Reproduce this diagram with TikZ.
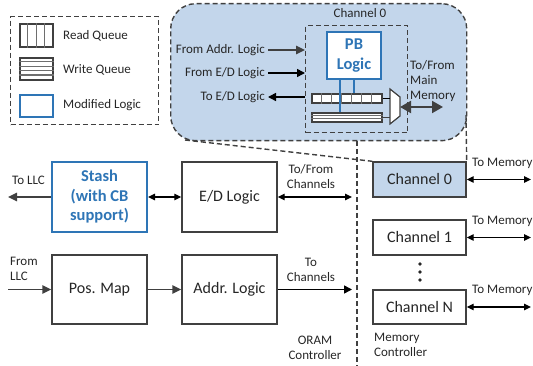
\documentclass[tikz,border=0pt]{standalone}
\usepackage{fontspec}
\setmainfont{Carlito}
\usetikzlibrary{arrows.meta,shapes.geometric,calc}
\definecolor{modblue}{RGB}{46,117,182}
\definecolor{lblue}{RGB}{195,214,235}
\definecolor{boxgray}{RGB}{64,64,64}
\definecolor{txt}{RGB}{38,38,38}
\definecolor{qgray}{RGB}{110,110,110}
\tikzset{
  box/.style={draw=boxgray, line width=1.4pt, fill=white, minimum width=95pt, minimum height=70pt,
    font=\fontsize{16}{18}\selectfont, text=txt, inner sep=0pt},
  chbox/.style={box, minimum width=93pt, minimum height=35pt},
  modbox/.style={draw=modblue, line width=2.2pt, fill=white, text=modblue, align=center,
    font=\fontsize{16.5}{19.5}\selectfont\bfseries, inner sep=0pt},
  lbl/.style={font=\fontsize{13}{15}\selectfont, text=txt, inner sep=0pt, align=left},
  clbl/.style={lbl, align=center},
  ar/.style={-{Triangle[length=9pt,width=8.5pt]}, line width=1.5pt, draw=boxgray},
  arb/.style={-{Triangle[length=8pt,width=8pt]}, line width=1.5pt, draw=black},
  dar/.style={{Triangle[length=7pt,width=6.5pt]}-{Triangle[length=7pt,width=6.5pt]}, line width=1.3pt, draw=black},
  bigdar/.style={{Triangle[length=11pt,width=12pt]}-{Triangle[length=11pt,width=12pt]}, line width=2pt, draw=boxgray},
  dsh/.style={dash pattern=on 5pt off 3pt, line width=1.4pt, draw=boxgray},
  qbox/.style={draw=boxgray, line width=1.2pt, fill=white, inner sep=0pt},
}
\begin{document}
\begin{tikzpicture}[x=1pt,y=-1pt]
\useasboundingbox (0,0) rectangle (533,366);

% ---------- legend ----------
\node[dsh, draw, minimum width=148pt, minimum height=108pt, anchor=north west] (legend) at (10,16) {};
\node[qbox, minimum width=33pt, minimum height=23pt] (lrq) at (36.5,35.5) {};
\foreach \i in {1,2,3} \draw[qgray, line width=0.8pt] ($(lrq.north west)+(\i*8.25,0)$) -- ($(lrq.south west)+(\i*8.25,0)$);
\node[qbox, minimum width=33pt, minimum height=22pt] (lwq) at (36.5,69) {};
\foreach \j in {1,2,3,4} \draw[qgray, line width=1.3pt] ($(lwq.north west)+(0,\j*4.4)$) -- ($(lwq.north east)+(0,\j*4.4)$);
\node[draw=modblue, line width=2.2pt, minimum width=33pt, minimum height=22pt, inner sep=0pt] (lml) at (36.5,106) {};
\node[lbl, anchor=west] (trq) at (63,36) {Read Queue};
\node[lbl, anchor=west] (twq) at (63,70) {Write Queue};
\node[lbl, anchor=west] (tml) at (63,105) {Modified Logic};

% ---------- zoomed channel 0 ----------
\node[dsh, draw, fill=lblue, rounded corners=25pt, minimum width=296pt, minimum height=137pt, anchor=north west] (big) at (170,3) {};
\node[lbl] (bigt) at (360,13) {Channel 0};
\node[dsh, draw, minimum width=102pt, minimum height=107pt, anchor=north west] (inner) at (305,25) {};
\node[modbox, minimum width=54pt, minimum height=47pt] (pb) at (354,55.5) {PB\\Logic};
\node[qbox, minimum width=70pt, minimum height=9pt] (rq) at (347,98.5) {};
\foreach \i in {1,...,6} \draw[qgray, line width=0.8pt] ($(rq.north west)+(\i*10,0)$) -- ($(rq.south west)+(\i*10,0)$);
\node[qbox, minimum width=70pt, minimum height=9pt] (wq) at (347,117.5) {};
\draw[qgray, line width=1pt] ($(wq.west)+(0,-1.5)$) -- ($(wq.east)+(0,-1.5)$);
\draw[qgray, line width=1pt] ($(wq.west)+(0,1.5)$) -- ($(wq.east)+(0,1.5)$);
\coordinate (b1) at (340,0);
\coordinate (b2) at (354,0);
\draw[modblue, line width=2pt] (pb.south -| b1) -- (wq.north -| b1);
\draw[modblue, line width=2pt] (pb.south -| b2) -- (rq.north -| b2);
% mux
\draw[draw=boxgray, line width=1.2pt, fill=white] (390,89) coordinate (mtl) -- (400,97) -- (400,116) -- (390,124) coordinate (mbl) -- cycle;
\coordinate (min1) at (390,98.5);
\coordinate (min2) at (390,117.5);
\coordinate (mout) at (400,107);
\draw[black, line width=1.8pt] (rq.east) -- (min1);
\draw[boxgray, line width=1.8pt] (wq.east) -- (min2);
\coordinate (mmem) at (443,107);
\draw[bigdar] (mout) -- (mmem);
\node[lbl, anchor=north west, align=left] (tfm) at (410,60) {To/From\\Main\\Memory};
% left arrows
\node[lbl, anchor=east] (fal) at (265,50) {From Addr. Logic};
\node[lbl, anchor=east] (fel) at (265,73) {From E/D Logic};
\node[lbl, anchor=east] (tel) at (265,97) {To E/D Logic};
\draw[ar] (fal.east) ++(3,0) -- (fal -| inner.west);
\draw[arb] (fel.east) ++(3,0) -- (fel -| inner.west);
\draw[arb] (tel -| inner.west) -- ($(tel.east)+(3,0)$);

% zoom lines
\coordinate (zl) at (185,140);
\coordinate (zr) at (466,115);

% ---------- ORAM controller ----------
\node[box, modbox, minimum width=95pt, minimum height=70pt] (stash) at (99.5,197) {Stash\\(with CB\\support)};
\node[box] (ed) at (229.5,197) {E/D Logic};
\node[box, minimum height=69pt] (pos) at (99.5,289.5) {Pos. Map};
\node[box, minimum height=69pt] (addr) at (229.5,289.5) {Addr. Logic};

\coordinate (tollc) at (8,197);
\coordinate (fromllc) at (8,289.5);
\coordinate (tfch) at (352,197);
\coordinate (toch) at (352,289.5);
\draw[ar] (stash) -- (tollc);
\draw[dar] (stash) -- (ed);
\draw[dar] (ed) -- (tfch);
\draw[ar] (fromllc) -- (pos);
\draw[ar] (pos) -- (addr);
\draw[arb] (addr) -- (toch);
\node[lbl, anchor=west] (ltollc) at (12,180) {To LLC};
\node[lbl, anchor=north west, align=left] (lfromllc) at (10,257) {From\\LLC};
\node[clbl] (ltfch) at (311,177) {To/From\\Channels};
\node[clbl] (ltoch) at (311,270) {To\\Channels};
\node[clbl] (loram) at (315,348) {ORAM\\Controller};

% separator
\coordinate (sept) at (357,141);
\coordinate (sepb) at (357,366);
\draw[dsh] (sept) -- (sepb);

% ---------- memory controller ----------
\node[chbox, fill=lblue] (ch0) at (419.5,179.5) {Channel 0};
\node[chbox] (ch1) at (419.5,237.5) {Channel 1};
\node[chbox, minimum height=34pt] (chn) at (419.5,307) {Channel N};
\draw[dsh] (zl) -- (ch0.north west);
\draw[dsh] (zr) -- (ch0.north east);
\coordinate (m0) at (531,179.5);
\coordinate (m1) at (531,237.5);
\coordinate (mn) at (531,307);
\draw[dar] (ch0) -- (m0);
\draw[dar] (ch1) -- (m1);
\draw[dar] (chn) -- (mn);
\node[lbl, anchor=west] (tm0) at (472,163) {To Memory};
\node[lbl, anchor=west] (tm1) at (472,221) {To Memory};
\node[lbl, anchor=west] (tmn) at (472,290) {To Memory};
\foreach \yy in {264,272,280} \fill[txt] (420,\yy) circle (1.8pt);
\node[lbl, anchor=north west, align=left] (lmem) at (374,333) {Memory\\Controller};
\end{tikzpicture}
\end{document}
